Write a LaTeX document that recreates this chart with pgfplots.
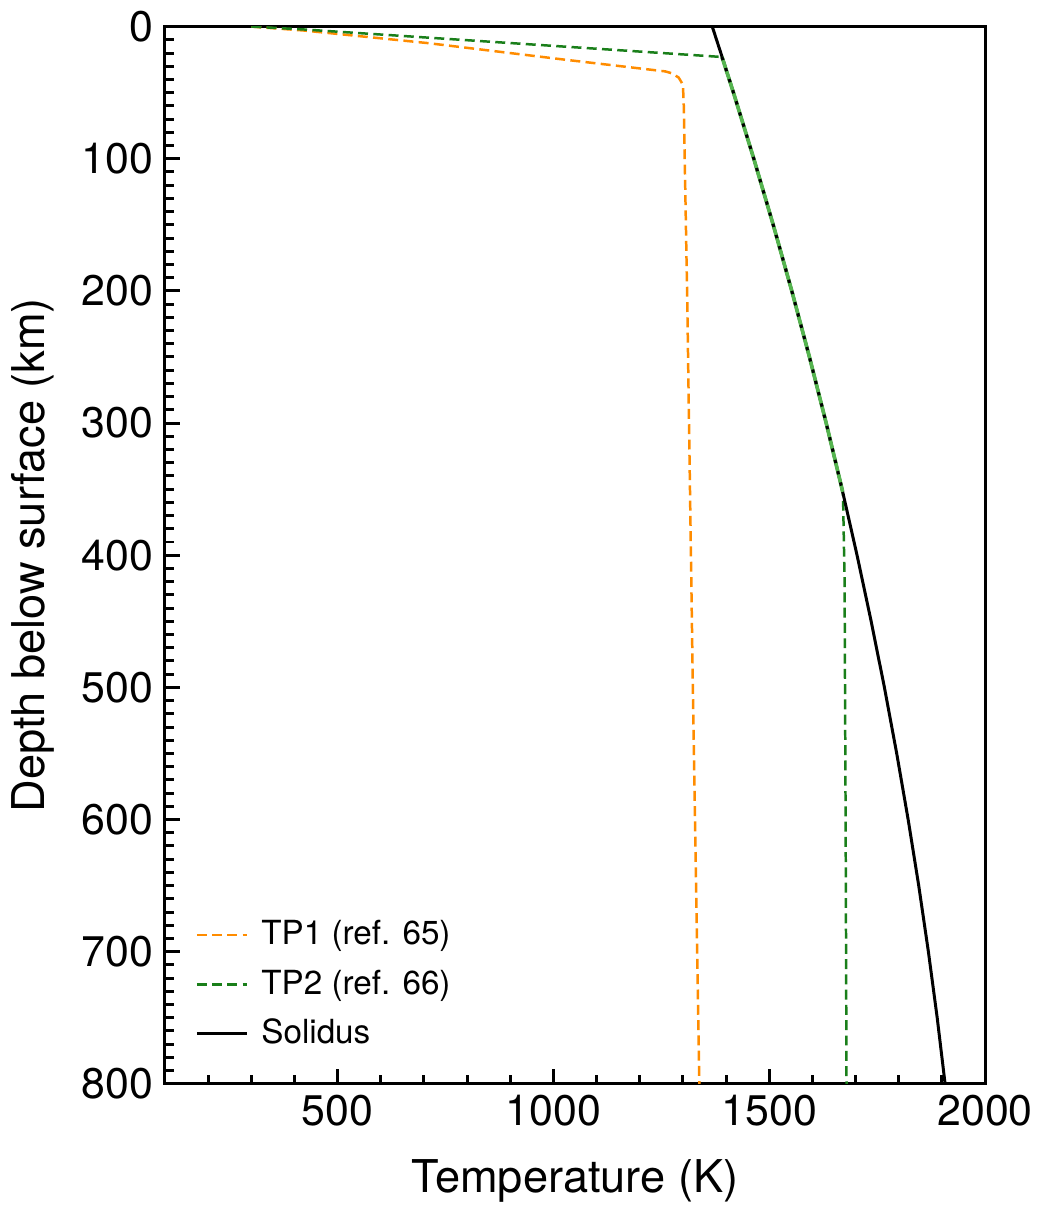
\documentclass[border=0pt]{standalone}
\usepackage{fontspec}
\setmainfont{TeX Gyre Heros}
\usepackage{pgfplots}
\pgfplotsset{compat=1.18}
\definecolor{tporange}{HTML}{FF8C00}
\definecolor{tpgreen}{HTML}{1A7F1A}
\definecolor{lgreen}{HTML}{55B54F}
\begin{document}
\begin{tikzpicture}
\begin{axis}[
  scale only axis, width=246.9pt, height=318.3pt,
  xmin=100, xmax=2000, ymin=0, ymax=800, y dir=reverse,
  xtick={500,1000,1500,2000}, minor xtick={100,200,...,1900},
  ytick={0,100,...,800}, minor ytick={10,20,...,790},
  tick align=inside, tick pos=left,
  major tick length=4.6pt, minor tick length=2.6pt,
  every tick/.style={black, line width=0.9pt},
  axis line style={line width=0.9pt},
  /pgf/number format/assume math mode=true,
  /pgf/number format/1000 sep={},
  tick label style={font=\fontsize{12.9}{15}\selectfont},
  label style={font=\fontsize{13.6}{16}\selectfont},
  xlabel={Temperature (K)}, ylabel={Depth below surface (km)},
  xlabel style={inner ysep=1pt, yshift=-5.5pt},
  ylabel style={yshift=1.5pt},
  legend style={at={(0.024,0.02)}, anchor=south west, draw=none, fill=none,
    font=\fontsize{10}{12}\selectfont, row sep=2pt},
  legend cell align=left,
  legend image code/.code={\draw[#1] (0pt,0pt) -- (15pt,0pt); \path (17pt,0pt);},
]
\addplot[tporange, line width=0.75pt, dash pattern=on 3pt off 1.6pt] coordinates {
 (300,0) (423,3) (712,12.6) (1028,25.1) (1259,33.9) (1273,35.2) (1290,38.5)
 (1300,44) (1302,60) (1310,207) (1323,500) (1338,800)};
\addlegendentry{TP1 (ref. 65)}
\addplot[tpgreen, line width=0.75pt, dash pattern=on 3pt off 1.6pt] coordinates {
 (300,0) (423,2.2) (1390.5,23) (1417.1,50) (1464.2,100) (1509.2,150) (1552.2,200)
 (1593.1,250) (1631.9,300) (1668.7,350) (1670,352) (1671,356) (1674.5,419) (1677,607) (1679,800)};
\addlegendentry{TP2 (ref. 66)}
\addplot[black, line width=0.9pt] coordinates {
 (1368,0) (1392.8,25) (1417.1,50) (1464.2,100) (1509.2,150) (1552.2,200)
 (1593.1,250) (1631.9,300) (1668.7,350) (1703.4,400) (1736.1,450) (1766.8,500)
 (1795.3,550) (1821.8,600) (1846.3,650) (1868.7,700) (1889.1,750) (1907.4,800)};
\addlegendentry{Solidus}
\addplot[lgreen, line width=1.1pt, forget plot] coordinates {
 (1390.5,23) (1417.1,50) (1464.2,100) (1509.2,150) (1552.2,200)
 (1593.1,250) (1631.9,300) (1668.7,350) (1670,352)};
\addplot[black, line width=0.9pt, dash pattern=on 1pt off 2.5pt, forget plot] coordinates {
 (1390.5,23) (1417.1,50) (1464.2,100) (1509.2,150) (1552.2,200)
 (1593.1,250) (1631.9,300) (1668.7,350) (1670,352)};
\end{axis}
\end{tikzpicture}
\end{document}
